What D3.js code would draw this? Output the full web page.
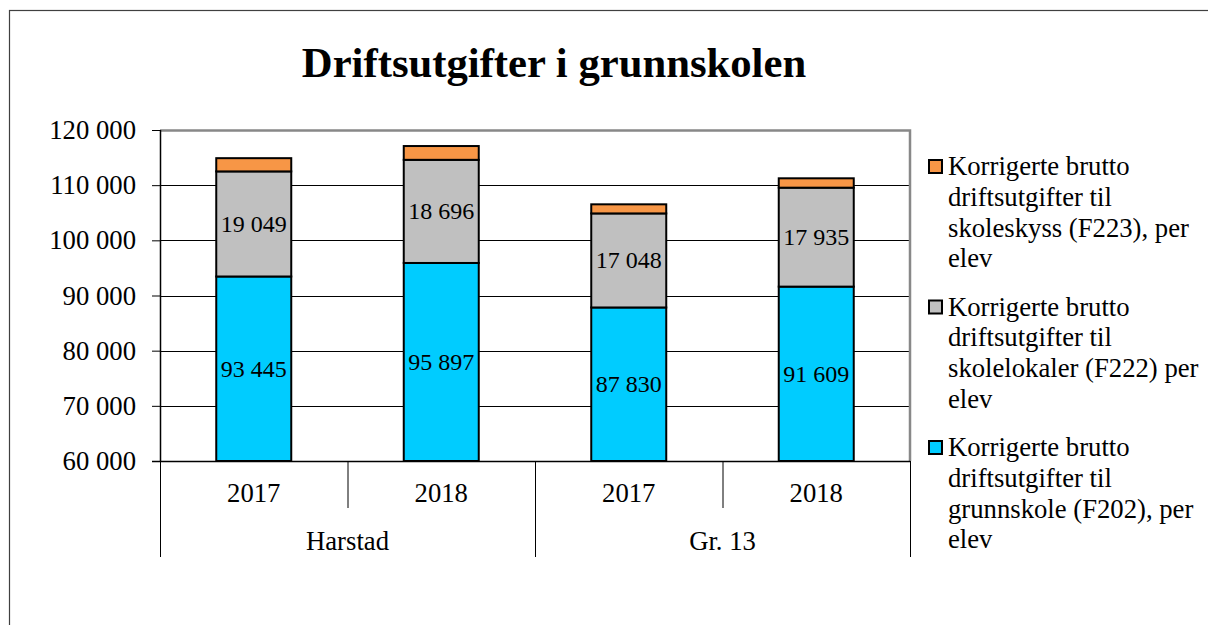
<html lang="no">
<head>
    <meta charset="utf-8">
    <title>Driftsutgifter i grunnskolen</title>
    <script src="https://cdn.jsdelivr.net/npm/d3@7"></script>
    <style>
        body { margin: 0; background: #fff; }
        text { font-family: "Liberation Serif", "Times New Roman", serif; fill: #000; }
        .axis path { display: none; }
        .axis line { stroke: #000; }
    </style>
</head>
<body>
    <svg width="1208" height="625"></svg>
    <script>
        // data
        var groups = ["Harstad", "Gr. 13"];
        var years = ["2017", "2018", "2017", "2018"];
        var grunnskole = [93445, 95897, 87830, 91609];
        var skolelokaler = [19049, 18696, 17048, 17935];
        var skoleskyss = [2400, 2500, 1650, 1700];
        var yTicks = [60000, 70000, 80000, 90000, 100000, 110000, 120000];
        var seriesNames = [
            ["Korrigerte brutto", "driftsutgifter til", "skoleskyss (F223), per", "elev"],
            ["Korrigerte brutto", "driftsutgifter til", "skolelokaler (F222) per", "elev"],
            ["Korrigerte brutto", "driftsutgifter til", "grunnskole (F202), per", "elev"]
        ];
        var colors = {grunnskole: "#00ccff", skolelokaler: "#c0c0c0", skoleskyss: "#f79646"};

        var svg = d3.select("svg"),
            margin = {top: 130, left: 160, right: 298, bottom: 164},
            width = 1208 - margin.left - margin.right,
            height = 625 - margin.top - margin.bottom;

        // outer chart frame
        svg.append("rect")
            .attr("x", 9.5).attr("y", 10.5)
            .attr("width", 1400).attr("height", 800)
            .attr("fill", "#fff").attr("stroke", "#404040").attr("stroke-width", 1.2);

        svg.append("text")
            .attr("x", 554).attr("y", 77)
            .attr("text-anchor", "middle")
            .style("font-size", "42.7px").style("font-weight", "bold")
            .text("Driftsutgifter i grunnskolen");

        var g = svg.append("g").attr("transform", "translate(" + margin.left + "," + margin.top + ")");

        var rows = years.map(function(y, i) {
            return {i: i, grunnskole: grunnskole[i], skolelokaler: skolelokaler[i], skoleskyss: skoleskyss[i]};
        });
        var keys = ["grunnskole", "skolelokaler", "skoleskyss"];
        var stacked = d3.stack().keys(keys)(rows);

        var x = d3.scaleBand().domain(d3.range(years.length)).range([0, width])
            .paddingInner(0.6).paddingOuter(0.3);
        var y = d3.scaleLinear().domain([60000, 120000]).range([height, 0]);
        // axis starts at 60 000, so clamp the bottom of the lowest segment
        function yc(v) { return y(Math.max(v, 60000)); }

        var fmt = d3.formatLocale({decimal: ",", thousands: " ", grouping: [3], currency: ["", ""]}).format(",d");

        // gridlines
        g.selectAll(".grid").data(yTicks).enter().append("line")
            .attr("x1", 0).attr("x2", width)
            .attr("y1", function(d) { return Math.round(y(d)) + 0.5; })
            .attr("y2", function(d) { return Math.round(y(d)) + 0.5; })
            .attr("stroke", "#000").attr("stroke-width", 1);

        // plot area border top/right (grey)
        g.append("path")
            .attr("d", "M0,0.5H" + width + "V" + height)
            .attr("fill", "none").attr("stroke", "#888").attr("stroke-width", 2.5);

        // y axis
        var yAxis = g.append("g").attr("class", "axis")
            .call(d3.axisLeft(y).tickValues(yTicks).tickSize(8).tickPadding(16).tickFormat(fmt));
        yAxis.attr("font-family", null);
        yAxis.selectAll("text").style("font-size", "26.7px");
        g.append("line").attr("x1", 0.5).attr("x2", 0.5).attr("y1", 0).attr("y2", height)
            .attr("stroke", "#000").attr("stroke-width", 1.5);

        // bars
        var layer = g.selectAll(".layer").data(stacked).enter().append("g")
            .attr("fill", function(d) { return colors[d.key]; });
        layer.selectAll("rect").data(function(d) { return d; }).enter().append("rect")
            .attr("x", function(d) { return x(d.data.i); })
            .attr("width", x.bandwidth())
            .attr("y", function(d) { return yc(d[1]); })
            .attr("height", function(d) { return yc(d[0]) - yc(d[1]); })
            .attr("stroke", "#000").attr("stroke-width", 2);

        // value labels for the two lower series
        stacked.slice(0, 2).forEach(function(s) {
            g.selectAll(".lbl-" + s.key).data(s).enter().append("text")
                .attr("x", function(d) { return x(d.data.i) + x.bandwidth() / 2; })
                .attr("y", function(d) { return (yc(d[0]) + yc(d[1])) / 2 + 8; })
                .attr("text-anchor", "middle")
                .style("font-size", "24px")
                .text(function(d) { return fmt(d[1] - d[0]); });
        });

        // x axis: baseline, year ticks, group separators
        g.append("line").attr("x1", -8).attr("x2", width).attr("y1", height + 0.5).attr("y2", height + 0.5)
            .attr("stroke", "#000").attr("stroke-width", 1.5);
        var step = x.step();
        d3.range(years.length + 1).forEach(function(i) {
            var outer = (i % 2 === 0);
            g.append("line")
                .attr("x1", i * step + 0.5).attr("x2", i * step + 0.5)
                .attr("y1", height).attr("y2", height + (outer ? 96 : 47))
                .attr("stroke", "#000").attr("stroke-width", 1);
        });
        g.selectAll(".year").data(years).enter().append("text")
            .attr("x", function(d, i) { return x(i) + x.bandwidth() / 2; })
            .attr("y", height + 41)
            .attr("text-anchor", "middle")
            .style("font-size", "26.7px")
            .text(function(d) { return d; });
        g.selectAll(".group").data(groups).enter().append("text")
            .attr("x", function(d, i) { return (2 * i + 1) * step; })
            .attr("y", height + 89)
            .attr("text-anchor", "middle")
            .style("font-size", "26.7px")
            .text(function(d) { return d; });

        // legend
        var legendKeys = ["skoleskyss", "skolelokaler", "grunnskole"];
        var legend = svg.selectAll(".legend").data(legendKeys).enter().append("g")
            .attr("transform", function(d, i) { return "translate(929," + (175 + i * 140.5) + ")"; });
        legend.append("rect")
            .attr("x", 0).attr("y", -15).attr("width", 13).attr("height", 13)
            .attr("fill", function(d) { return colors[d]; })
            .attr("stroke", "#000").attr("stroke-width", 2);
        legend.append("text")
            .attr("x", 19).attr("y", 0)
            .style("font-size", "26.7px")
            .selectAll("tspan").data(function(d, i) { return seriesNames[i]; }).enter().append("tspan")
            .attr("x", 19).attr("dy", function(d, j) { return j === 0 ? 0 : 30.8; })
            .text(function(d) { return d; });
    </script>
</body>
</html>
